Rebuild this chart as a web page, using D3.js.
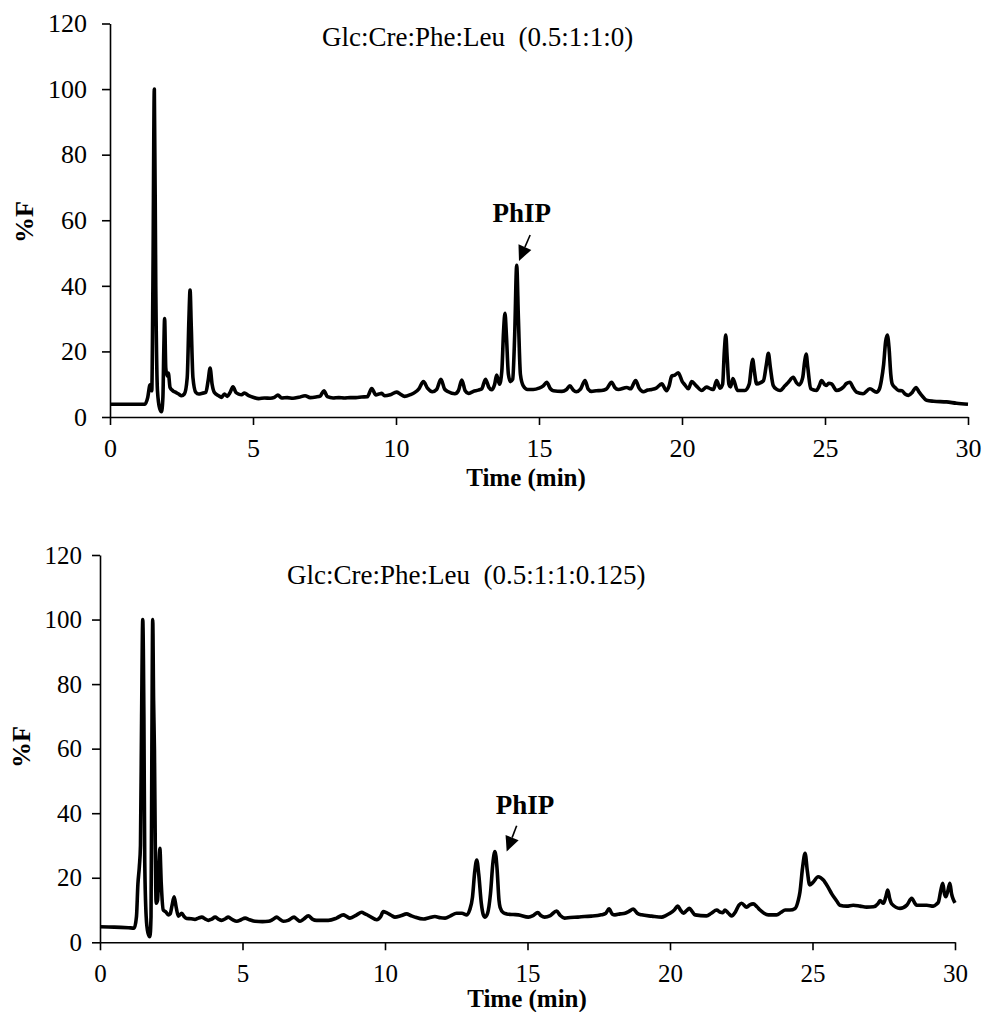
<!DOCTYPE html>
<html>
<head>
<meta charset="utf-8">
<script src="https://cdn.jsdelivr.net/npm/d3@7"></script>
<style>
  body { margin: 0; background: #fff; }
</style>
</head>
<body>
<svg id="chart" width="986" height="1012"></svg>
<script>
const SERIF = "'Liberation Serif', 'Times New Roman', Times, serif";

// tick values shared by both panels
const x_ticks = [0, 5, 10, 15, 20, 25, 30];
const y_ticks = [0, 20, 40, 60, 80, 100, 120];

const titles = ["Glc:Cre:Phe:Leu\u00a0\u00a0(0.5:1:1:0)", "Glc:Cre:Phe:Leu\u00a0\u00a0(0.5:1:1:0.125)"];

// [time (min), %F]
const trace_top = [
  [0, 3.9], [0.5, 3.9], [1.0, 3.9], [1.22, 3.9], [1.32, 6], [1.40, 9.8], [1.46, 8],
  [1.50, 40], [1.55, 100], [1.60, 40], [1.66, 8], [1.74, 2.5], [1.80, 1.6], [1.85, 6],
  [1.88, 20], [1.91, 30], [1.95, 15], [2.0, 12.5], [2.04, 13.4], [2.1, 9], [2.2, 8],
  [2.3, 7.5], [2.4, 7], [2.5, 6.5], [2.6, 7], [2.7, 12], [2.76, 30], [2.80, 38.7],
  [2.84, 28], [2.9, 12], [3.0, 7.5], [3.1, 7], [3.2, 7.2], [3.35, 7.5], [3.43, 11],
  [3.50, 14.9], [3.57, 10], [3.65, 7.5], [3.8, 6.5], [3.9, 6], [4.0, 7], [4.1, 6.3],
  [4.2, 7.5], [4.3, 9.2], [4.4, 7.5], [4.5, 7], [4.6, 6.8], [4.7, 7.3], [4.85, 6.5],
  [5.0, 6], [5.2, 5.6], [5.4, 5.8], [5.6, 5.7], [5.75, 6], [5.87, 6.7], [6.0, 5.8],
  [6.2, 5.9], [6.4, 5.7], [6.6, 6], [6.82, 6.5], [7.0, 5.9], [7.2, 6.1], [7.35, 6.4],
  [7.48, 8.0], [7.6, 6.2], [7.8, 5.8], [8.0, 5.9], [8.2, 5.8], [8.4, 5.9], [8.6, 5.9],
  [8.8, 6.1], [9.0, 6.2], [9.15, 8.7], [9.3, 6.7], [9.4, 7], [9.5, 7.2], [9.6, 6.5],
  [9.8, 6.8], [10.02, 7.6], [10.15, 7], [10.3, 6.3], [10.5, 6.8], [10.66, 7.5],
  [10.8, 8.6], [10.96, 10.8], [11.1, 8.8], [11.27, 7.7], [11.42, 8.4], [11.57, 11.5],
  [11.7, 8.5], [11.83, 7.7], [12.06, 7.1], [12.18, 8], [12.3, 11.3], [12.42, 8],
  [12.53, 7.2], [12.7, 7.8], [12.88, 8.2], [13.0, 8.6], [13.13, 11.5], [13.25, 9],
  [13.34, 8.3], [13.45, 10], [13.52, 12.8], [13.62, 10], [13.7, 14], [13.76, 26],
  [13.81, 31.6], [13.86, 25], [13.93, 13], [14.0, 10.8], [14.08, 11.5], [14.15, 25],
  [14.22, 46.3], [14.28, 30], [14.35, 13], [14.45, 9.5], [14.6, 8.4], [14.8, 8.4],
  [15.0, 8.8], [15.15, 9.5], [15.27, 10.6], [15.4, 8.6], [15.5, 8], [15.8, 7.8],
  [15.95, 8.3], [16.08, 9.5], [16.2, 8.2], [16.3, 7.7], [16.45, 8.5], [16.61, 11.1],
  [16.72, 8.5], [16.84, 7.8], [17.0, 8], [17.19, 8.1], [17.35, 8.5], [17.54, 10.6],
  [17.65, 9], [17.77, 8.4], [18.07, 9], [18.2, 8.6], [18.38, 11.1], [18.5, 8.8],
  [18.65, 7.7], [18.8, 8.2], [18.94, 8.4], [19.1, 8.8], [19.29, 10.1], [19.46, 8],
  [19.55, 9.5], [19.64, 12.5], [19.75, 12.8], [19.87, 13.5], [20.01, 10.8], [20.1, 9.8],
  [20.22, 8.6], [20.34, 10.8], [20.5, 9.5], [20.69, 8.1], [20.86, 9.1], [21.0, 8.6],
  [21.1, 8.4], [21.21, 11.1], [21.33, 8.8], [21.42, 10], [21.48, 20], [21.53, 25],
  [21.58, 18], [21.64, 10], [21.70, 9.2], [21.78, 11.7], [21.94, 8.1], [22.2, 8.1],
  [22.35, 10], [22.42, 15], [22.47, 17.6], [22.53, 14], [22.61, 10.1], [22.75, 10.5],
  [22.85, 11.1], [22.95, 16], [23.02, 19.4], [23.09, 15], [23.19, 9.6], [23.3, 8.5],
  [23.43, 8.1], [23.6, 9.5], [23.72, 10.6], [23.89, 12.1], [24.0, 10.5], [24.1, 9.8],
  [24.22, 12], [24.29, 17], [24.34, 19.2], [24.4, 15], [24.5, 8.6], [24.7, 8.1],
  [24.8, 9.5], [24.88, 11.1], [25.0, 9.8], [25.05, 9.6], [25.13, 10.3], [25.23, 10.1],
  [25.4, 8.1], [25.55, 8.5], [25.64, 9.1], [25.75, 10.2], [25.87, 10.6], [25.98, 9],
  [26.1, 7.6], [26.33, 7.1], [26.57, 8.6], [26.8, 7.6], [26.9, 8.5], [26.97, 11.1],
  [27.05, 16], [27.12, 23], [27.18, 25], [27.24, 21], [27.3, 13], [27.35, 10.1],
  [27.45, 9], [27.57, 8.1], [27.69, 8], [27.8, 7], [27.92, 6.6], [28.05, 7.5],
  [28.18, 9], [28.3, 7.5], [28.38, 6.6], [28.55, 5.1], [28.8, 4.8], [29.25, 4.6],
  [29.6, 4.2], [30, 3.9]
];

// [time (min), %F]
const trace_bottom = [
  [0, 4.8], [0.5, 4.7], [1.0, 4.5], [1.2, 4.4], [1.28, 8], [1.33, 18], [1.38, 23.4],
  [1.42, 30], [1.46, 70], [1.50, 100], [1.54, 70], [1.57, 25], [1.62, 8], [1.68, 3],
  [1.75, 1.7], [1.79, 8], [1.82, 60], [1.85, 100], [1.88, 75], [1.91, 59.5], [1.94, 30],
  [1.97, 12.1], [2.02, 13], [2.06, 22], [2.10, 29.1], [2.15, 18], [2.22, 10], [2.3, 9.5],
  [2.4, 8.5], [2.46, 8.8], [2.53, 11.5], [2.6, 14.1], [2.67, 11], [2.75, 8.1], [2.87, 9],
  [2.95, 8], [3.04, 7.4], [3.2, 7.3], [3.33, 7.1], [3.45, 7.5], [3.57, 7.8], [3.7, 7.2],
  [3.8, 6.8], [3.92, 7.2], [4.04, 7.8], [4.15, 7.2], [4.27, 6.8], [4.4, 7.3], [4.5, 7.8],
  [4.65, 7], [4.8, 6.5], [4.95, 7], [5.09, 7.5], [5.25, 7], [5.44, 6.5], [5.7, 6.4],
  [5.91, 6.5], [6.05, 7], [6.2, 7.8], [6.3, 7.2], [6.43, 6.5], [6.6, 6.8], [6.81, 7.8],
  [6.9, 7.2], [7.02, 6.5], [7.15, 7.2], [7.31, 8.2], [7.45, 7.2], [7.6, 6.8], [8.01, 6.8],
  [8.3, 7.5], [8.54, 8.5], [8.65, 8], [8.77, 7.5], [9.01, 8.5], [9.18, 9.3], [9.3, 8.8],
  [9.42, 8.3], [9.71, 7], [9.85, 8], [9.94, 9.5], [10.05, 9.2], [10.23, 8.3], [10.35, 7.8],
  [10.55, 8.2], [10.76, 8.8], [10.9, 8.3], [11.05, 7.8], [11.35, 7.2], [11.55, 7.6],
  [11.75, 8], [11.95, 7.6], [12.11, 7.5], [12.3, 8.2], [12.51, 9], [12.7, 9], [12.87, 8.5],
  [12.97, 10], [13.07, 14], [13.15, 22], [13.22, 25.5], [13.29, 21], [13.38, 12],
  [13.45, 8.5], [13.51, 7.8], [13.6, 9], [13.7, 15], [13.79, 25], [13.86, 28.1],
  [13.93, 23], [14.0, 13], [14.04, 10.8], [14.15, 9.2], [14.27, 8.8], [14.5, 8.6],
  [14.68, 8.5], [15.03, 7.8], [15.2, 8.3], [15.36, 9.2], [15.48, 8.2], [15.6, 7.8],
  [15.8, 8.3], [16.02, 9.7], [16.15, 8.3], [16.3, 7.5], [16.5, 7.7], [16.77, 7.8],
  [17.0, 8], [17.24, 8.1], [17.59, 8.5], [17.75, 9], [17.86, 10.4], [17.97, 8.8],
  [18.07, 8.5], [18.25, 8.8], [18.42, 9], [18.55, 9.5], [18.71, 10.3], [18.85, 9],
  [19.0, 8.5], [19.36, 8.1], [19.71, 7.8], [19.85, 8.3], [20.0, 9], [20.15, 10],
  [20.27, 11.2], [20.37, 10], [20.47, 9], [20.58, 9.8], [20.68, 10.5], [20.78, 9.5],
  [20.88, 8.5], [21.28, 8.2], [21.45, 9], [21.64, 10], [21.75, 9.4], [21.85, 9.2],
  [21.93, 10], [22.05, 9], [22.16, 8.2], [22.3, 9.5], [22.42, 11.5], [22.51, 12.1],
  [22.69, 10.9], [22.8, 11.6], [22.92, 11.9], [23.05, 11], [23.16, 10], [23.3, 9],
  [23.45, 8.5], [23.74, 8.5], [23.9, 9.3], [24.04, 10], [24.21, 10], [24.39, 10.5],
  [24.5, 13], [24.56, 15.6], [24.65, 23], [24.74, 27.6], [24.82, 22], [24.9, 17.8],
  [25.01, 18.5], [25.2, 20.3], [25.38, 19.3], [25.55, 17], [25.67, 15.1], [25.85, 12.8],
  [25.96, 11.5], [26.2, 11.2], [26.43, 11.5], [26.67, 11.2], [26.9, 10.9], [27.14, 11],
  [27.3, 12], [27.37, 12.9], [27.49, 12.1], [27.57, 14], [27.64, 16.2], [27.71, 13.5],
  [27.78, 11.9], [28.07, 10.5], [28.31, 11.5], [28.48, 13.6], [28.6, 12], [28.65, 11.5],
  [29.01, 11.5], [29.24, 11.2], [29.35, 11.8], [29.42, 12.5], [29.5, 16], [29.57, 18.3],
  [29.63, 15], [29.68, 14.1], [29.75, 16], [29.82, 18.3], [29.88, 15], [29.94, 13.3],
  [30, 12.2]
];

// PhIP arrow: [tail, tip] in data units, plus label anchor
const phip_top = { label: [14.40, 59.5], tail: [14.69, 55.5], tip: [14.30, 47.6] };
const phip_bottom = { label: [14.91, 39.8], tail: [14.62, 36.1], tip: [14.27, 28.1] };

const svg = d3.select("#chart");
svg.append("rect").attr("width", 986).attr("height", 1012).attr("fill", "#fff");

function drawPanel(opts) {
  const g = svg.append("g").attr("font-family", SERIF);
  const x = d3.scaleLinear().domain([0, 30]).range([opts.left, opts.right]);
  const y = d3.scaleLinear().domain([0, 120]).range([opts.bottom, opts.top]);

  // axes
  const xa = g.append("g")
    .attr("transform", `translate(0,${opts.bottom})`)
    .call(d3.axisBottom(x).tickValues(x_ticks).tickSize(8).tickSizeOuter(0).tickPadding(14));
  const ya = g.append("g")
    .attr("transform", `translate(${opts.left},0)`)
    .call(d3.axisLeft(y).tickValues(y_ticks).tickSize(8).tickSizeOuter(0).tickPadding(opts.ypad));
  [xa, ya].forEach(a => {
    a.attr("font-family", SERIF).attr("font-size", opts.font);
    a.selectAll("path, line").attr("stroke", "#000").attr("stroke-width", 1.6);
    a.selectAll("text").attr("fill", "#000").attr("font-family", SERIF).attr("font-size", opts.font);
  });

  // trace
  const line = d3.line()
    .x(d => x(d[0]))
    .y(d => y(d[1]))
    .curve(d3.curveMonotoneX);
  g.append("path")
    .datum(opts.trace)
    .attr("d", line)
    .attr("fill", "none")
    .attr("stroke", "#000")
    .attr("stroke-width", 3.6)
    .attr("stroke-linejoin", "round");

  // title
  g.append("text")
    .attr("x", opts.titleX)
    .attr("y", opts.titleY)
    .attr("font-family", SERIF)
    .attr("font-size", 27)
    .text(opts.title);

  // axis labels
  g.append("text")
    .attr("x", opts.xlabelX)
    .attr("y", opts.xlabelY)
    .attr("text-anchor", "middle")
    .attr("font-family", SERIF)
    .attr("font-size", 25)
    .attr("font-weight", "bold")
    .text("Time (min)");
  g.append("text")
    .attr("transform", `translate(${opts.ylabelX},${opts.ylabelY}) rotate(-90)`)
    .attr("text-anchor", "middle")
    .attr("font-family", SERIF)
    .attr("font-size", 26)
    .attr("font-weight", "bold")
    .text("%F");

  // PhIP annotation
  const a = opts.phip;
  g.append("text")
    .attr("x", x(a.label[0]))
    .attr("y", y(a.label[1]))
    .attr("text-anchor", "middle")
    .attr("font-family", SERIF)
    .attr("font-size", 27)
    .attr("font-weight", "bold")
    .text("PhIP");
  const tx = x(a.tail[0]), ty = y(a.tail[1]);
  const px = x(a.tip[0]), py = y(a.tip[1]);
  const ang = Math.atan2(py - ty, px - tx);
  const len = 15, half = 7;
  const bx = px - len * Math.cos(ang), by = py - len * Math.sin(ang);
  g.append("line")
    .attr("x1", tx).attr("y1", ty).attr("x2", bx).attr("y2", by)
    .attr("stroke", "#000").attr("stroke-width", 1.6);
  g.append("path")
    .attr("d", `M${px},${py}L${bx + half * Math.sin(ang)},${by - half * Math.cos(ang)}L${bx - half * Math.sin(ang)},${by + half * Math.cos(ang)}Z`)
    .attr("fill", "#000");
}

drawPanel({
  left: 110, right: 968, top: 23.5, bottom: 417, ypad: 15, font: 26,
  trace: trace_top, title: titles[0], titleX: 322, titleY: 46,
  xlabelX: 526, xlabelY: 486, ylabelX: 33, ylabelY: 222,
  phip: phip_top
});

drawPanel({
  left: 100, right: 955, top: 555, bottom: 942.3, ypad: 10, font: 25,
  trace: trace_bottom, title: titles[1], titleX: 287, titleY: 584,
  xlabelX: 527, xlabelY: 1007, ylabelX: 30, ylabelY: 747,
  phip: phip_bottom
});
</script>
</body>
</html>
